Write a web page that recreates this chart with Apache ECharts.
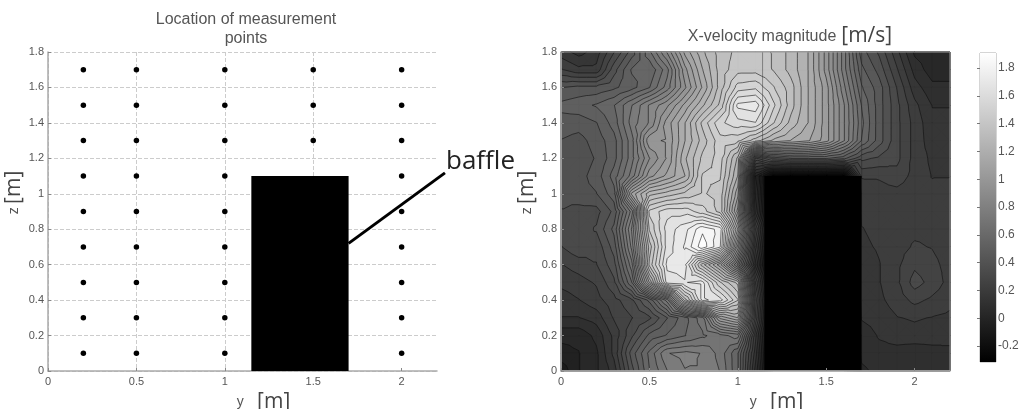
<!DOCTYPE html>
<html><head><meta charset="utf-8">
<style>html,body{margin:0;padding:0;background:#fff}#c{width:1024px;height:409px;filter:blur(0.65px)}</style>
<script src="https://cdn.jsdelivr.net/npm/echarts@6/dist/echarts.min.js"></script>
</head><body><div id="c"></div>
<script>
const yTicks=[0,0.5,1,1.5,2];
const zTicks=[0,0.2,0.4,0.6,0.8,1,1.2,1.4,1.6,1.8];
const cbTicks=[-0.2,0,0.2,0.4,0.6,0.8,1,1.2,1.4,1.6,1.8];
const points=[[0.2,1.7],[0.5,1.7],[1,1.7],[1.5,1.7],[2,1.7],[0.2,1.5],[0.5,1.5],[1,1.5],[1.5,1.5],[2,1.5],[0.2,1.3],[0.5,1.3],[1,1.3],[1.5,1.3],[2,1.3],
[0.2,1.1],[0.5,1.1],[1,1.1],[2,1.1],[0.2,0.9],[0.5,0.9],[1,0.9],[2,0.9],[0.2,0.7],[0.5,0.7],[1,0.7],[2,0.7],[0.2,0.5],[0.5,0.5],[1,0.5],[2,0.5],[0.2,0.3],[0.5,0.3],[1,0.3],[2,0.3],[0.2,0.1],[0.5,0.1],[1,0.1],[2,0.1]];
const baffle=[1.15,1.7,0,1.1];
const leader=[[1.7,0.72],[2.245,1.118]];
const seams=[[[1.14,1.1],[1.14,1.8]],[[1.7,1.1],[1.7,1.8]]];
const gridY=[0,0.1,0.2,0.3,0.4,0.5,0.6,0.7,0.8,0.9,1,1.1,1.2,1.3,1.4,1.5,1.6,1.7,1.8,1.9,2,2.1,2.2];
const gridZ=[1.8,1.7,1.6,1.5,1.4,1.3,1.2,1.1,1,0.9,0.8,0.7,0.6,0.5,0.4,0.3,0.2,0.1,0];
const velocity=[
[.15,.1,.15,.3,.45,.65,.85,1.1,1.25,1.35,1.4,1.4,1.38,1.3,1.2,1,.75,.45,.35,.2,.05,.02,.02],
[.25,.2,.2,.4,.55,.55,.7,1,1.2,1.35,1.42,1.42,1.38,1.3,1.2,1,.75,.5,.4,.25,.1,.03,.03],
[.42,.44,.44,.47,.52,.6,.75,.95,1.15,1.35,1.53,1.55,1.45,1.35,1.2,1.05,.8,.55,.45,.3,.15,.08,.08],
[.5,.52,.55,.6,.72,.85,.95,1.1,1.25,1.4,1.7,1.72,1.52,1.35,1.2,1.05,.85,.6,.45,.32,.2,.12,.12],
[.46,.45,.48,.57,.75,.85,1.05,1.2,1.4,1.55,1.6,1.62,1.45,1.3,1.2,1.05,.85,.62,.45,.32,.22,.14,.14],
[.42,.4,.45,.52,.7,1.01,1.03,1.2,1.35,1.48,1.46,1.35,1.25,1.2,1.15,1.05,.85,.6,.45,.32,.22,.15,.15],
[.38,.38,.43,.52,.7,.9,1.03,1.25,1.4,1.47,1.25,.35,.5,.55,.55,.55,.5,.38,.35,.32,.22,.17,.17],
[.38,.4,.45,.57,.75,1,1.1,1.2,1.45,1.45,1.2,0,-.28,-.3,-.3,-.3,-.3,.25,.25,.28,.22,.18,.18],
[.38,.4,.42,.52,1.1,1.3,1.35,1.4,1.45,1.42,1.1,.05,-.3,-.3,-.3,-.3,-.3,.2,.22,.22,.2,.2,.22],
[.36,.34,.34,.44,.75,1.52,1.6,1.6,1.53,1.42,1,.1,-.3,-.3,-.3,-.3,-.3,.2,.2,.22,.22,.2,.22],
[.33,.33,.37,.5,.85,1.45,1.65,1.72,1.85,1.78,1.2,.3,-.3,-.3,-.3,-.3,-.3,.18,.2,.22,.23,.23,.2],
[.3,.35,.32,.45,.8,1.35,1.65,1.75,1.9,1.75,1,.2,-.3,-.3,-.3,-.3,-.3,.17,.19,.22,.25,.24,.21],
[.24,.27,.3,.4,.7,1.4,1.7,1.7,1.35,1.1,.7,.1,-.3,-.3,-.3,-.3,-.3,.15,.18,.23,.29,.26,.22],
[.2,.22,.25,.35,.6,1.15,1.65,1.68,1.7,1.45,1.3,.3,-.3,-.3,-.3,-.3,-.3,.15,.18,.23,.33,.28,.22],
[.15,.18,.22,.28,.35,.5,.75,1.35,1.7,1.65,1.45,.4,-.3,-.3,-.3,-.3,-.3,.15,.17,.21,.26,.23,.2],
[.12,.12,.15,.25,.3,.35,.48,.58,.7,1.1,1.2,.35,-.3,-.3,-.3,-.3,-.3,.13,.15,.18,.19,.18,.17],
[.02,.02,.08,.2,.35,.5,.55,.6,.65,.7,.75,.2,-.3,-.3,-.3,-.3,-.3,.08,.13,.15,.16,.15,.14],
[-.02,0,.05,.2,.45,.62,.78,.8,.78,.7,.55,.15,-.3,-.3,-.3,-.3,-.3,.08,.1,.1,.08,.1,.11],
[-.1,0,.05,.15,.4,.6,.72,.78,.78,.72,.55,.1,-.3,-.3,-.3,-.3,-.3,.05,.08,.1,.1,.1,.11]
];
const levelStep=0.06, vMin=-0.315, vMax=1.908;
const gray=v=>{const g=Math.max(0,Math.min(255,Math.round((v-vMin)/(vMax-vMin)*255)));return `rgb(${g},${g},${g})`;};

function clipAbove(tri,L){
  const out=[];
  for(let i=0;i<3;i++){
    const a=tri[i],b=tri[(i+1)%3];
    if(a[2]>=L) out.push(a);
    if((a[2]>=L)!==(b[2]>=L)){
      const t=(L-a[2])/(b[2]-a[2]);
      out.push([a[0]+t*(b[0]-a[0]),a[1]+t*(b[1]-a[1]),L]);
    }
  }
  return out;
}
function crossing(tri,L){
  const pts=[];
  for(let i=0;i<3;i++){
    const a=tri[i],b=tri[(i+1)%3];
    if((a[2]>=L)!==(b[2]>=L)){
      const t=(L-a[2])/(b[2]-a[2]);
      pts.push([a[0]+t*(b[0]-a[0]),a[1]+t*(b[1]-a[1])]);
    }
  }
  return pts;
}
function contourRender(params,api){
  const tris=[];
  for(let r=0;r<gridZ.length-1;r++)for(let c=0;c<gridY.length-1;c++){
    const P=(rr,cc)=>{const p=api.coord([gridY[cc],gridZ[rr]]);return [p[0],p[1],velocity[rr][cc]];};
    const a=P(r,c),b=P(r,c+1),d=P(r+1,c),e=P(r+1,c+1);
    const m=[(a[0]+e[0])/2,(a[1]+e[1])/2,(a[2]+b[2]+d[2]+e[2])/4];
    tris.push([a,b,m],[b,e,m],[e,d,m],[d,a,m]);
  }
  const children=[];
  const tl=api.coord([0,1.8]),br=api.coord([2.2,0]);
  children.push({type:'rect',shape:{x:tl[0],y:tl[1],width:br[0]-tl[0],height:br[1]-tl[1]},style:{fill:gray(-0.3)}});
  const fmt=n=>n.toFixed(1);
  const lines=[];
  for(let k=0;k*levelStep-0.3<1.95;k++){
    const L=-0.3+k*levelStep+0.003;
    let d='',ld='';
    for(const t of tris){
      const poly=clipAbove(t,L);
      if(poly.length>=3) d+='M'+poly.map(p=>fmt(p[0])+' '+fmt(p[1])).join('L')+'Z';
      const s=crossing(t,L);
      if(s.length===2) ld+='M'+fmt(s[0][0])+' '+fmt(s[0][1])+'L'+fmt(s[1][0])+' '+fmt(s[1][1]);
    }
    const col=gray(L+levelStep/2);
    if(d) children.push({type:'path',shape:{pathData:d},style:{fill:col,stroke:col,lineWidth:0.4}});
    if(ld) lines.push({type:'path',shape:{pathData:ld},style:{fill:null,stroke:'rgba(10,10,10,0.7)',lineWidth:0.8}});
  }
  return {type:'group',children:children.concat(lines)};
}
function baffleRender(params,api){
  const a=api.coord([baffle[0],baffle[3]]),b=api.coord([baffle[1],baffle[2]]);
  return {type:'rect',shape:{x:a[0],y:a[1],width:b[0]-a[0],height:b[1]-a[1]},style:{fill:'#000'}};
}
function leaderRender(params,api){
  return {type:'polyline',shape:{points:leader.map(p=>api.coord(p))},style:{fill:null,stroke:'#000',lineWidth:3}};
}
function barRender(params,api){
  const a=api.coord([0,vMax]),b=api.coord([1,vMin]);
  return {type:'rect',shape:{x:a[0],y:a[1],width:b[0]-a[0],height:b[1]-a[1]},
    style:{fill:new echarts.graphic.LinearGradient(0,0,0,1,[{offset:0,color:'#fff'},{offset:1,color:'#000'}])}};
}
const tickFont={fontFamily:'Liberation Sans',fontSize:11,color:'#555'};
const rich={a:{fontFamily:'Liberation Sans',fontSize:14,color:'#555'},b:{fontFamily:'Open Sans',fontSize:21,color:'#444'}};
const xAxisBase=()=>({type:'value',min:0,max:2.2,interval:0.5,name:'{a|y}    {b|[m]}',nameLocation:'middle',nameGap:12,nameTextStyle:{rich,padding:[0,0,0,42]},
  axisLabel:{...tickFont,margin:5,showMaxLabel:false},axisLine:{show:true,lineStyle:{color:'#aaa',width:1.5}},
  axisTick:{inside:true,length:3,lineStyle:{color:'#888'},customValues:yTicks}});
const yAxisBase=gap=>({type:'value',min:0,max:1.8,interval:0.2,name:'{a|z} {b|[m]}',nameLocation:'middle',nameGap:gap,nameTextStyle:{rich,padding:[0,0,0,38]},
  axisLabel:{...tickFont,margin:4},axisLine:{show:true,lineStyle:{color:'#aaa',width:1.5}},
  axisTick:{inside:true,length:3,lineStyle:{color:'#888'}}});
const chart=echarts.init(document.getElementById('c'),null,{renderer:'canvas'});
chart.setOption({
  animation:false,backgroundColor:'#fff',
  title:[
   {text:'Location of measurement\npoints',left:241,top:5,textAlign:'center',textStyle:{fontFamily:'Liberation Sans',fontSize:16,fontWeight:'normal',color:'#555',lineHeight:19}},
   {text:'{a|X-velocity magnitude} {b|[m/s]}',left:785,top:21,textAlign:'center',textStyle:{rich:{a:{fontFamily:'Liberation Sans',fontSize:16,fontWeight:'normal',color:'#555'},b:{fontFamily:'Open Sans',fontSize:21,fontWeight:'normal',color:'#444'}}}},
   {text:'baffle',left:441,top:144,textStyle:{fontFamily:'Open Sans',fontSize:26,fontWeight:'normal',color:'#222'}}
  ],
  grid:[
   {left:48,width:389,top:52,height:319,outerBoundsMode:'none'},
   {left:561,width:389,top:52,height:319,outerBoundsMode:'none',show:true,borderColor:'#999',borderWidth:1,z:5,backgroundColor:'transparent'},
   {left:980,width:16,top:53,height:309,outerBoundsMode:'none',show:true,borderColor:'#aaa',borderWidth:1}
  ],
  xAxis:[
   {...xAxisBase(),gridIndex:0,splitLine:{show:true,showMaxLine:false,lineStyle:{type:'dashed',color:'#ccc',width:1}}},
   {...xAxisBase(),gridIndex:1,splitLine:{show:false},z:6},
   {type:'value',gridIndex:2,min:0,max:1,show:false}
  ],
  yAxis:[
   {...yAxisBase(18),gridIndex:0,splitLine:{show:true,lineStyle:{type:'dashed',color:'#ccc',width:1}}},
   {...yAxisBase(21),gridIndex:1,splitLine:{show:false},z:6},
   {type:'value',gridIndex:2,position:'right',min:vMin,max:vMax,axisLine:{show:false},splitLine:{show:false},
    axisTick:{show:true,inside:true,length:3,lineStyle:{color:'#777'},customValues:cbTicks},
    axisLabel:{...tickFont,fontSize:12,margin:2,customValues:cbTicks,formatter:v=>String(v)}},
   {type:'value',gridIndex:2,position:'left',min:vMin,max:vMax,axisLine:{show:false},splitLine:{show:false},axisLabel:{show:false},
    axisTick:{show:true,inside:true,length:3,lineStyle:{color:'#777'},customValues:cbTicks}}
  ],
  series:[
   {type:'custom',name:'baffle-left',xAxisIndex:0,yAxisIndex:0,renderItem:baffleRender,data:[[baffle[0],baffle[2]]],silent:true,z:2},
   {type:'scatter',name:'Measurement points',xAxisIndex:0,yAxisIndex:0,data:points,symbolSize:5.5,itemStyle:{color:'#000',opacity:1},silent:true,z:3},
   {type:'custom',name:'leader',xAxisIndex:0,yAxisIndex:0,renderItem:leaderRender,data:[[1.7,0.72]],clip:false,silent:true,z:4},
   {type:'custom',name:'X-velocity',xAxisIndex:1,yAxisIndex:1,renderItem:contourRender,data:[[0,0]],silent:true,z:1},
   {type:'custom',name:'baffle-right',xAxisIndex:1,yAxisIndex:1,renderItem:baffleRender,data:[[baffle[0],baffle[2]]],silent:true,z:2},
   ...seams.map(s=>({type:'line',xAxisIndex:1,yAxisIndex:1,data:s,symbol:'none',lineStyle:{color:'rgba(40,40,40,0.45)',width:1},silent:true,z:3})),
   {type:'custom',name:'colorbar',xAxisIndex:2,yAxisIndex:2,renderItem:barRender,data:[[0,0]],silent:true,z:1}
  ]
});
</script></body></html>
